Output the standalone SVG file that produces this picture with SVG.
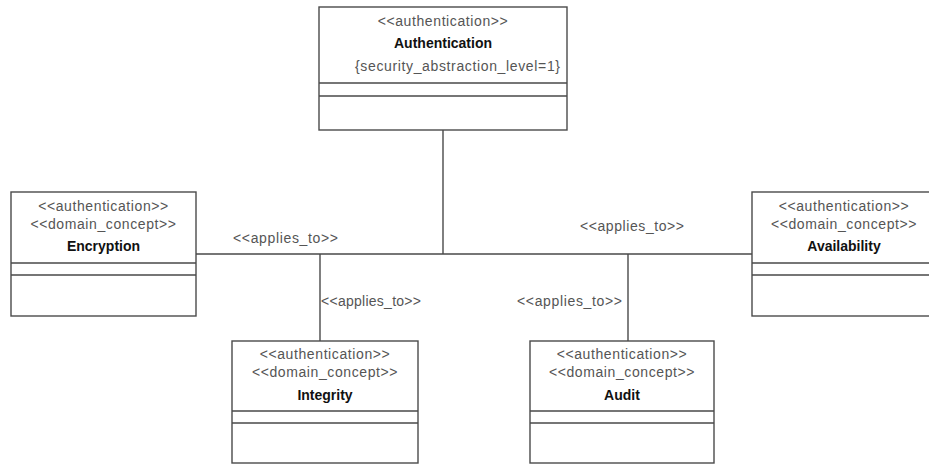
<svg xmlns="http://www.w3.org/2000/svg" width="929" height="464" viewBox="0 0 929 464">
<style>
.box{fill:#fff;stroke:#4a4a4a;stroke-width:1.4}
.sep{stroke:#4a4a4a;stroke-width:1.4}
.st{font-family:"Liberation Sans",Arial,sans-serif;font-size:14px;fill:#555;text-anchor:middle;letter-spacing:0.6px}
.nm{font-family:"Liberation Sans",Arial,sans-serif;font-size:14px;font-weight:bold;fill:#111;text-anchor:middle}
.lbl{font-family:"Liberation Sans",Arial,sans-serif;font-size:14px;fill:#555}
.con{fill:none;stroke:#4a4a4a;stroke-width:1.4}
</style>
<rect width="929" height="464" fill="#fff"/>
<g id="connectors">
<path class="con" d="M443 130V254M196 254H752M320 254V341M628 254V341"/>
<text class="lbl" x="233" y="243" textLength="105" lengthAdjust="spacing">&lt;&lt;applies_to&gt;&gt;</text>
<text class="lbl" x="580" y="231" textLength="104" lengthAdjust="spacing">&lt;&lt;applies_to&gt;&gt;</text>
<text class="lbl" x="321" y="306" textLength="100" lengthAdjust="spacing">&lt;&lt;applies_to&gt;&gt;</text>
<text class="lbl" x="517" y="306" textLength="105" lengthAdjust="spacing">&lt;&lt;applies_to&gt;&gt;</text>
</g>
<g id="authentication">
<rect class="box" x="319" y="7" width="248" height="123"/>
<path class="sep" d="M319 83H567M319 96H567"/>
<text class="st" x="443" y="26">&lt;&lt;authentication&gt;&gt;</text>
<text class="nm" x="443" y="48">Authentication</text>
<text class="lbl" x="355" y="71" textLength="205" lengthAdjust="spacing">{security_abstraction_level=1}</text>
</g>
<g id="encryption">
<rect class="box" x="11" y="192" width="185" height="124"/>
<path class="sep" d="M11 263H196M11 275H196"/>
<text class="st" x="103.5" y="211">&lt;&lt;authentication&gt;&gt;</text>
<text class="st" x="103.5" y="229">&lt;&lt;domain_concept&gt;&gt;</text>
<text class="nm" x="103.5" y="251">Encryption</text>
</g>
<g id="availability">
<rect class="box" x="752" y="192" width="185" height="124"/>
<path class="sep" d="M752 263H937M752 275H937"/>
<text class="st" x="844" y="211">&lt;&lt;authentication&gt;&gt;</text>
<text class="st" x="844" y="229">&lt;&lt;domain_concept&gt;&gt;</text>
<text class="nm" x="844" y="251">Availability</text>
</g>
<g id="integrity">
<rect class="box" x="232" y="341" width="186" height="122"/>
<path class="sep" d="M232 411H418M232 423H418"/>
<text class="st" x="325" y="359">&lt;&lt;authentication&gt;&gt;</text>
<text class="st" x="325" y="377">&lt;&lt;domain_concept&gt;&gt;</text>
<text class="nm" x="325" y="400">Integrity</text>
</g>
<g id="audit">
<rect class="box" x="530" y="341" width="184" height="122"/>
<path class="sep" d="M530 411H714M530 423H714"/>
<text class="st" x="622" y="359">&lt;&lt;authentication&gt;&gt;</text>
<text class="st" x="622" y="377">&lt;&lt;domain_concept&gt;&gt;</text>
<text class="nm" x="622" y="400">Audit</text>
</g>
</svg>
